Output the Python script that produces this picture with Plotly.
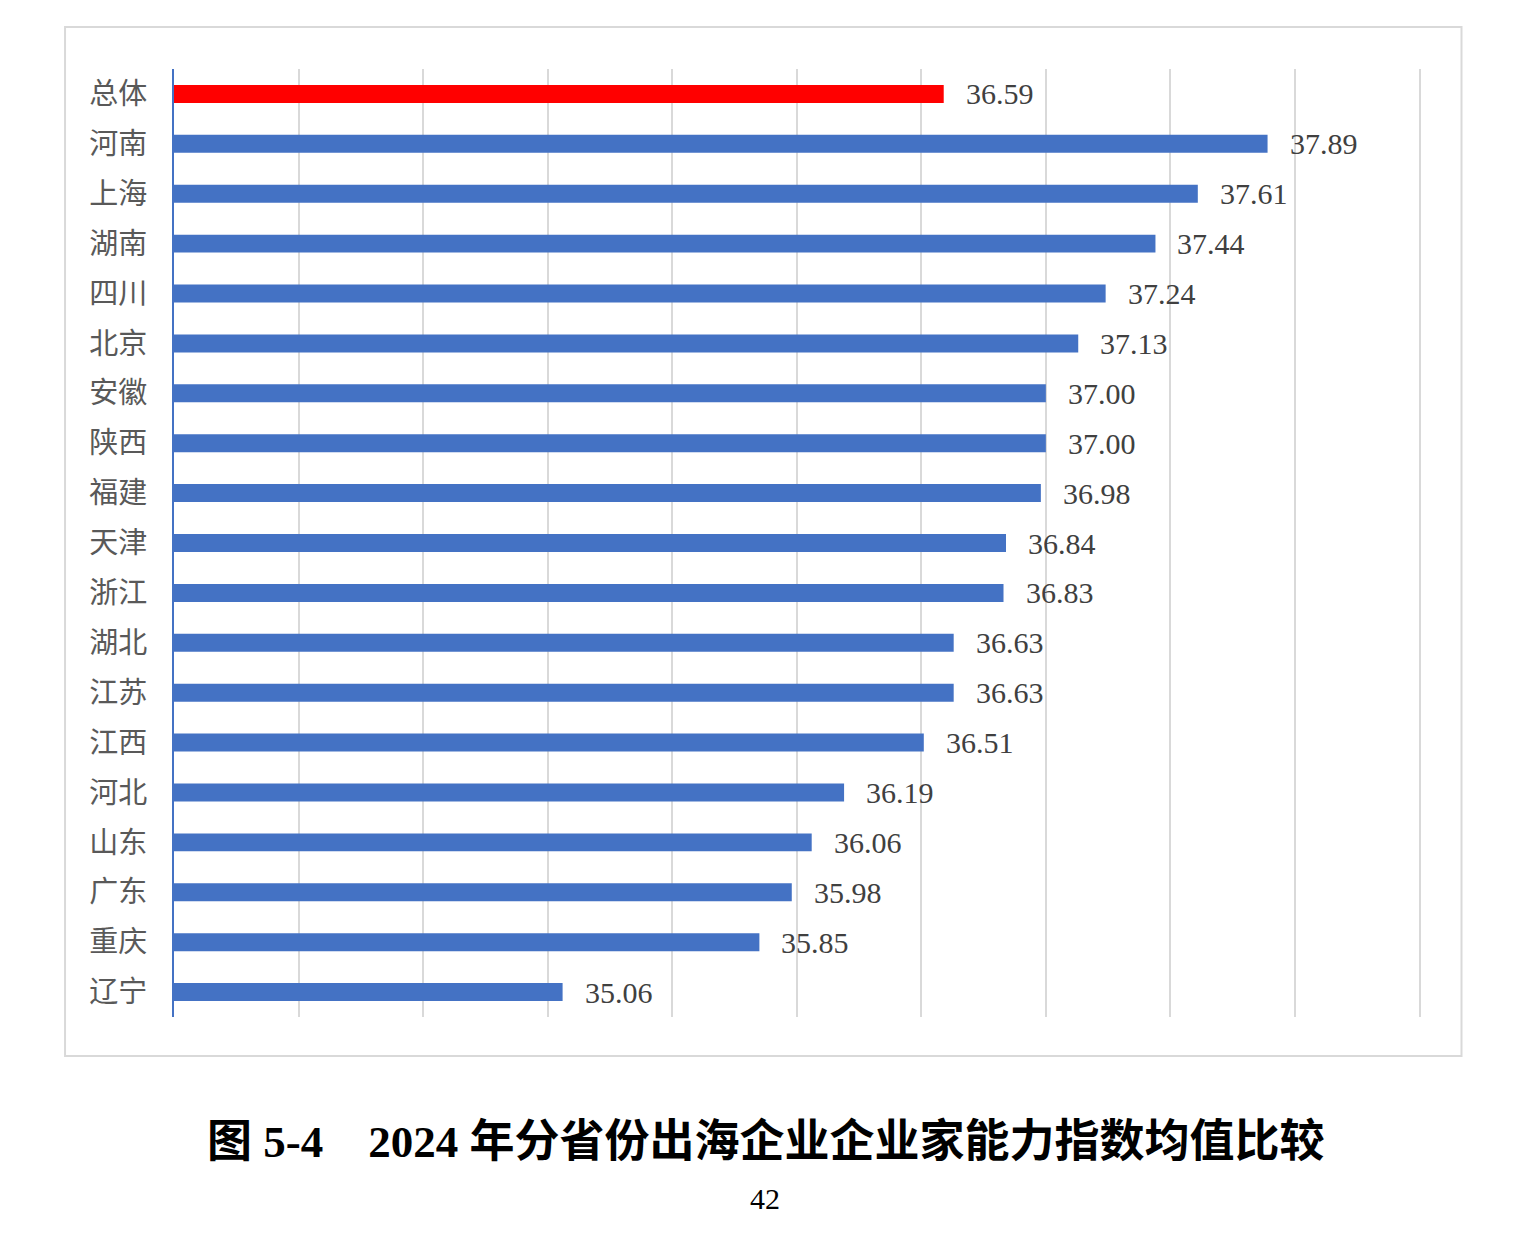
import plotly.graph_objects as go

provinces = ["总体", "河南", "上海", "湖南", "四川", "北京", "安徽", "陕西", "福建", "天津",
             "浙江", "湖北", "江苏", "江西", "河北", "山东", "广东", "重庆", "辽宁"]
values = [36.59, 37.89, 37.61, 37.44, 37.24, 37.13, 37.00, 37.00, 36.98, 36.84,
          36.83, 36.63, 36.63, 36.51, 36.19, 36.06, 35.98, 35.85, 35.06]
value_labels = ["36.59", "37.89", "37.61", "37.44", "37.24", "37.13", "37.00", "37.00", "36.98", "36.84",
                "36.83", "36.63", "36.63", "36.51", "36.19", "36.06", "35.98", "35.85", "35.06"]
title_text = "图 5-4　2024 年分省份出海企业企业家能力指数均值比较"
page_number = "42"

W, H = 1516, 1246
X_MIN, X_MAX, X_PAD = 33.5, 38.5, 0.01
L, T, B = 174, 69, 1017
R_GRID = 1420
R = L + (R_GRID - L) * (X_MAX + X_PAD - X_MIN) / (X_MAX - X_MIN)

colors = ["#FF0000" if p == "总体" else "#4472C4" for p in provinces]

fig = go.Figure(go.Bar(
    x=values, y=provinces, orientation="h",
    marker=dict(color=colors, line=dict(width=0)),
    hoverinfo="skip",
))

ann = []
for p, v, t in zip(provinces, values, value_labels):
    ann.append(dict(x=v, y=p, xref="x", yref="y", text=t, showarrow=False,
                    xanchor="left", yanchor="middle", xshift=20, yshift=0,
                    font=dict(family="Liberation Serif, Times New Roman, serif", size=30, color="#404040")))

def px_x(px):
    return (px - L) / (R - L)

def px_y(py):
    return (B - py) / (B - T)

ann.append(dict(x=px_x(766), y=px_y(1142), xref="paper", yref="paper", text="<b>" + title_text + "</b>",
                showarrow=False, xanchor="center", yanchor="middle",
                font=dict(family="Liberation Serif, Noto Sans CJK SC, serif", size=45, color="#000000")))
ann.append(dict(x=px_x(765), y=px_y(1198), xref="paper", yref="paper", text=page_number,
                showarrow=False, xanchor="center", yanchor="middle",
                font=dict(family="Liberation Serif, Times New Roman, serif", size=30, color="#000000")))

fig.update_layout(
    width=W, height=H,
    margin=dict(l=L, r=W - R, t=T, b=H - B, pad=0),
    paper_bgcolor="white", plot_bgcolor="white",
    bargap=0.64,
    showlegend=False,
    annotations=ann,
    shapes=[dict(type="rect", xref="paper", yref="paper",
                 x0=px_x(65), x1=px_x(1462), y0=px_y(1056), y1=px_y(27),
                 line=dict(color="#D9D9D9", width=2), fillcolor="rgba(0,0,0,0)", layer="below")],
    xaxis=dict(range=[X_MIN, X_MAX + X_PAD], dtick=0.5, tick0=X_MIN, showticklabels=False,
               showgrid=True, gridcolor="#D9D9D9", gridwidth=2, zeroline=False,
               showline=False, ticks=""),
    yaxis=dict(autorange="reversed", categoryorder="array", categoryarray=provinces,
               showline=True, linecolor="#4472C4", linewidth=2, ticks="",
               showgrid=False, ticklabelstandoff=19,
               tickfont=dict(family="Noto Sans CJK SC, sans-serif", size=29, color="#595959")),
)

fig.write_html("out.html")
